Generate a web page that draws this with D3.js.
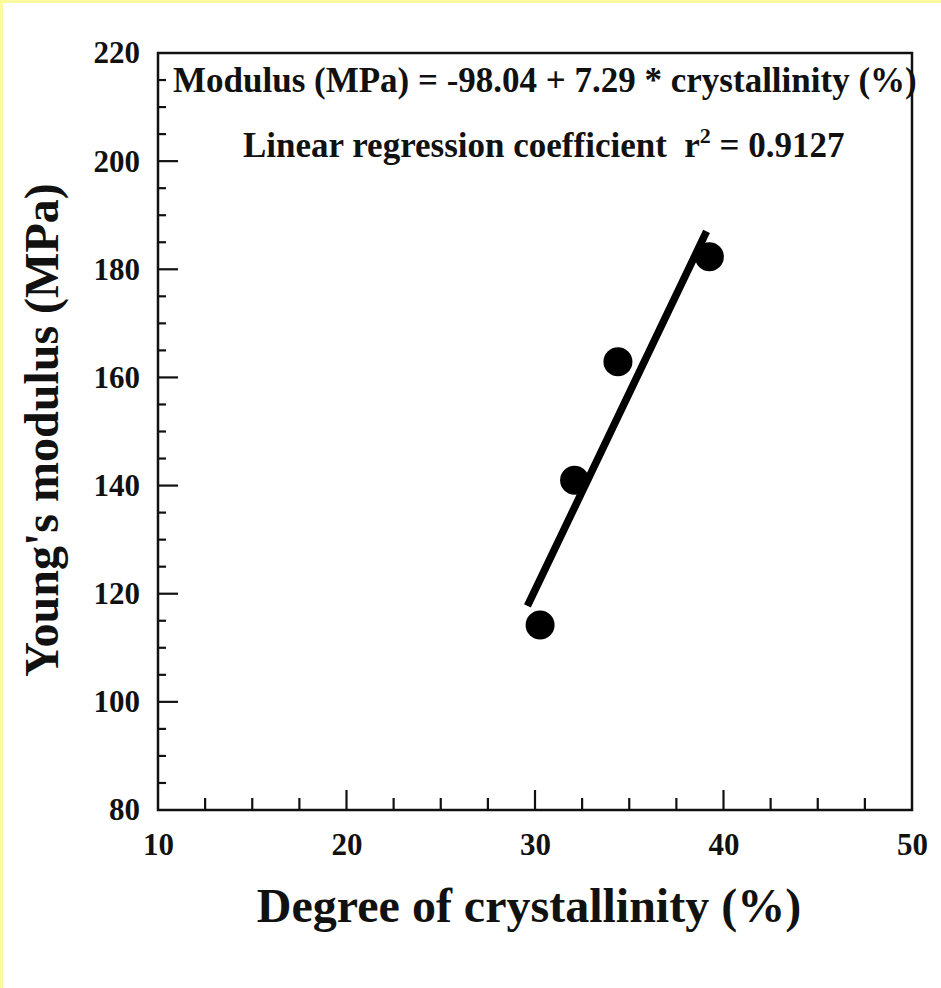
<!DOCTYPE html>
<html>
<head>
<meta charset="utf-8">
<script src="https://cdn.jsdelivr.net/npm/d3@7"></script>
<style>
  html, body { margin: 0; padding: 0; background: #ffffff; }
  svg { display: block; }
  text { font-family: "Liberation Serif", "Times New Roman", serif; font-weight: bold; fill: #111; }
</style>
</head>
<body>
<svg id="chart" width="941" height="988"></svg>
<script>
// Measured samples: degree of crystallinity (%) vs Young's modulus (MPa)
const crystallinity = [30.27, 32.1, 34.4, 39.25];
const modulus = [114.2, 141.0, 162.9, 182.3];

// Linear fit reported on the chart
const fitIntercept = -98.04;
const fitSlope = 7.29;
const fitR2 = 0.9127;
const fitRange = [29.6, 39.1];

const xTicks = [10, 20, 30, 40, 50];
const yTicks = [80, 100, 120, 140, 160, 180, 200, 220];

const svg = d3.select("#chart");

// pale frame strips along the left and top edges
svg.append("rect").attr("x", 0).attr("y", 0).attr("width", 941).attr("height", 3).attr("fill", "#fbf9a0");
svg.append("rect").attr("x", 0).attr("y", 0).attr("width", 3).attr("height", 988).attr("fill", "#fbf9a0");

const plot = { left: 158, right: 912, top: 53, bottom: 810 };

const x = d3.scaleLinear().domain([10, 50]).range([plot.left, plot.right]);
const y = d3.scaleLinear().domain([80, 220]).range([plot.bottom, plot.top]);

// minor ticks
const xMinor = d3.range(10, 50.01, 2.5).filter(v => v % 10 !== 0);
const yMinor = d3.range(80, 220.01, 5).filter(v => v % 20 !== 0);

const g = svg.append("g");

// x axis
const xAxis = g.append("g").attr("transform", `translate(0,${plot.bottom})`)
  .call(d3.axisBottom(x).tickValues(xTicks).tickSize(0).tickPadding(23).tickFormat(d3.format("d")));
xAxis.select(".domain").remove();
xAxis.selectAll("text").attr("font-size", 31).attr("fill", "#111");

g.append("g").attr("transform", `translate(0,${plot.bottom})`)
  .selectAll("line.xmaj").data(xTicks.slice(1, -1)).join("line")
  .attr("x1", d => x(d)).attr("x2", d => x(d)).attr("y1", 0).attr("y2", -20)
  .attr("stroke", "#111").attr("stroke-width", 2.2);
g.append("g").attr("transform", `translate(0,${plot.bottom})`)
  .selectAll("line.xmin").data(xMinor).join("line")
  .attr("x1", d => x(d)).attr("x2", d => x(d)).attr("y1", 0).attr("y2", -12)
  .attr("stroke", "#111").attr("stroke-width", 2.2);

// y axis
const yAxis = g.append("g").attr("transform", `translate(${plot.left},0)`)
  .call(d3.axisLeft(y).tickValues(yTicks).tickSize(0).tickPadding(18).tickFormat(d3.format("d")));
yAxis.select(".domain").remove();
yAxis.selectAll("text").attr("font-size", 31).attr("fill", "#111");

g.append("g").attr("transform", `translate(${plot.left},0)`)
  .selectAll("line").data(yTicks.slice(1, -1)).join("line")
  .attr("x1", 0).attr("x2", 20).attr("y1", d => y(d)).attr("y2", d => y(d))
  .attr("stroke", "#111").attr("stroke-width", 2.2);
g.append("g").attr("transform", `translate(${plot.left},0)`)
  .selectAll("line").data(yMinor).join("line")
  .attr("x1", 0).attr("x2", 8).attr("y1", d => y(d)).attr("y2", d => y(d))
  .attr("stroke", "#111").attr("stroke-width", 2.2);

// plot frame
g.append("rect")
  .attr("x", plot.left).attr("y", plot.top)
  .attr("width", plot.right - plot.left).attr("height", plot.bottom - plot.top)
  .attr("fill", "none").attr("stroke", "#111").attr("stroke-width", 2.5);

// regression line
const fitLine = d3.line().x(d => x(d)).y(d => y(fitIntercept + fitSlope * d));
g.append("path").datum(fitRange).attr("d", fitLine)
  .attr("fill", "none").attr("stroke", "#000").attr("stroke-width", 7.5).attr("stroke-linecap", "butt");

// data points
g.selectAll("circle.pt").data(crystallinity).join("circle")
  .attr("cx", d => x(d)).attr("cy", (d, i) => y(modulus[i])).attr("r", 14.5)
  .attr("fill", "#000");

// fit annotations
svg.append("text").attr("x", 173).attr("y", 92).attr("font-size", 35)
  .text(`Modulus (MPa) = ${fitIntercept.toFixed(2)} + ${fitSlope.toFixed(2)} * crystallinity (%)`);

const r2 = svg.append("text").attr("x", 243).attr("y", 157).attr("font-size", 35).attr("xml:space", "preserve");
r2.append("tspan").text("Linear regression coefficient  r");
r2.append("tspan").attr("dy", -14).attr("font-size", 22).text("2");
r2.append("tspan").attr("dy", 14).text(` = ${fitR2.toFixed(4)}`);

// axis titles
svg.append("text").attr("x", 529).attr("y", 922).attr("text-anchor", "middle").attr("font-size", 48)
  .text("Degree of crystallinity (%)");
svg.append("text").attr("transform", "translate(58,430) rotate(-90)").attr("text-anchor", "middle").attr("font-size", 48)
  .text("Young's modulus (MPa)");
</script>
</body>
</html>
